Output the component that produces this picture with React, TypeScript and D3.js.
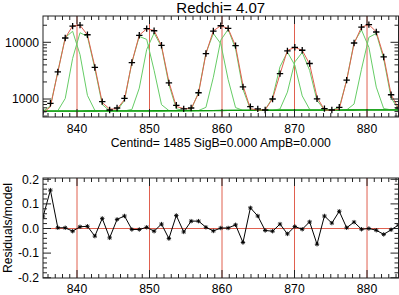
import React from 'react';
import * as d3 from 'd3';

const W = 399;
const H = 295;

// wavelength sampling
const xStart = 835.31;
const xStep = 1.0215;

// observed counts (top panel, log scale)
const fluxValues = [
  600, 840, 3000, 11900, 19300, 20100, 13600, 3600, 900, 640,
  695, 1030, 4400, 13300, 17400, 16000, 8850, 1930, 775, 670,
  695, 1290, 6340, 15800, 19600, 17600, 8750, 1640, 733, 670,
  641, 1000, 2800, 7050, 8170, 7240, 4230, 1010, 676, 641,
  714, 2150, 9730, 18500, 20500, 15200, 5520, 1190, 695,
];

// residuals / model (bottom panel)
const residualValues = [
  0.047, 0.156, 0.003, 0.003, -0.011, 0.007, 0.009, -0.031, 0.041, -0.038,
  0.037, 0.051, -0.004, -0.004, 0.005, -0.011, 0.018, -0.041, 0.053, -0.014,
  0.030, 0.030, 0.005, -0.010, 0.002, 0.002, 0.015, -0.057, 0.084, 0.051,
  -0.008, -0.011, 0.018, -0.022, 0.008, -0.003, 0.027, -0.064, 0.051, 0.022,
  0.070, 0.003, 0.026, -0.003, 0.000, -0.007, -0.024, -0.005, 0.014,
];

// fitted gaussian components (green)
const compCenters = [839.1, 840.8, 849.0, 850.68, 858.97, 860.7, 869.05, 870.9, 879.15, 880.9];
const compAmps = [15900, 15500, 13400, 13900, 13900, 16500, 6100, 6100, 16000, 15000];
const compSigmas = [0.9, 0.9, 0.9, 0.9, 0.9, 0.9, 0.9, 0.9, 0.9, 0.9];
const bgEnds = [610, 645];

const lineCenters = [840, 850, 860, 870, 880];
const xMajorTicks = [840, 850, 860, 870, 880];
const yTopMajorTicks = [1000, 10000];
const yBotMajorTicks = [-0.2, -0.1, 0.0, 0.1, 0.2];

const titleText = 'Redchi= 4.07';
const subtitleText = 'Centind= 1485 SigB=0.000 AmpB=0.000';
const yBotLabel = 'Residuals/model';

const FONT = '"Liberation Sans", Arial, Helvetica, sans-serif';

export default function App() {
  const left = 43;
  const right = 398.5;
  const top1 = 16;
  const bot1 = 117;
  const top2 = 178;
  const bot2 = 278;

  const xs = fluxValues.map((_, i) => xStart + i * xStep);
  const xDomain: [number, number] = [xs[0], xs[xs.length - 1]];
  const x = d3.scaleLinear().domain(xDomain).range([left, right]);
  const y1 = d3.scaleLog().domain([482, 29100]).range([bot1, top1]);
  const y2 = d3.scaleLinear().domain([-0.2012, 0.2053]).range([bot2, top2]);

  const bg = (xv: number) =>
    bgEnds[0] + ((bgEnds[1] - bgEnds[0]) * (xv - xDomain[0])) / (xDomain[1] - xDomain[0]);

  const model = fluxValues.map((f, i) => f / (1 + residualValues[i]));

  const line1 = d3.line<[number, number]>().x((d) => x(d[0])).y((d) => y1(d[1]));
  const line2 = d3.line<[number, number]>().x((d) => x(d[0])).y((d) => y2(d[1]));

  const comps = compCenters.map((c, k) =>
    xs.map((xv) => [xv, bg(xv) + compAmps[k] * Math.exp(-((xv - c) ** 2) / (2 * compSigmas[k] ** 2))] as [number, number])
  );
  const bgLine = xs.map((xv) => [xv, bg(xv)] as [number, number]);

  // minor ticks
  const xMinor: number[] = [];
  for (let v = Math.ceil(xDomain[0]); v <= xDomain[1]; v++) if (v % 10 !== 0) xMinor.push(v);
  const yTopMinor: number[] = [];
  for (const dec of [100, 1000, 10000]) {
    for (let m = 2; m <= 9; m++) {
      const v = m * dec;
      if (v >= 482 && v <= 29100) yTopMinor.push(v);
    }
  }
  const yBotMinor: number[] = [];
  for (let v = -0.2; v <= 0.2001; v += 0.02) {
    const r = Math.round(v * 100) / 100;
    if (Math.abs(Math.round(r * 10) - r * 10) > 1e-6) yBotMinor.push(r);
  }

  const axisColor = '#222';
  const majL = 8;
  const minL = 4;

  const xTicks = (top: number, bot: number, withLabels: boolean, labelY: number) => (
    <g>
      {xMajorTicks.map((t) => (
        <g key={'xM' + t}>
          <line x1={x(t)} x2={x(t)} y1={bot} y2={bot - majL} stroke={axisColor} strokeWidth={1} />
          <line x1={x(t)} x2={x(t)} y1={top} y2={top + majL} stroke={axisColor} strokeWidth={1} />
          {withLabels && (
            <text x={x(t)} y={labelY} textAnchor="middle" fontSize={12.2} fontFamily={FONT} fill="#000">
              {t}
            </text>
          )}
        </g>
      ))}
      {xMinor.map((t) => (
        <g key={'xm' + t}>
          <line x1={x(t)} x2={x(t)} y1={bot} y2={bot - minL} stroke={axisColor} strokeWidth={1} />
          <line x1={x(t)} x2={x(t)} y1={top} y2={top + minL} stroke={axisColor} strokeWidth={1} />
        </g>
      ))}
    </g>
  );

  const plus = (cx: number, cy: number, k: number) => (
    <path key={'p' + k} d={`M${cx - 3.2},${cy}H${cx + 3.2}M${cx},${cy - 3.2}V${cy + 3.2}`} stroke="#000" strokeWidth={1.3} />
  );
  const star = (cx: number, cy: number, k: number) => {
    const r = 2.2;
    const d = r * 0.7071;
    return (
      <path
        key={'s' + k}
        d={`M${cx - r},${cy}H${cx + r}M${cx},${cy - r}V${cy + r}M${cx - d},${cy - d}L${cx + d},${cy + d}M${cx - d},${cy + d}L${cx + d},${cy - d}`}
        stroke="#000"
        strokeWidth={0.9}
      />
    );
  };

  return (
    <svg
      width={W}
      height={H}
      style={{ position: 'absolute', left: 0, top: 0, background: '#fff' }}
      xmlns="http://www.w3.org/2000/svg"
    >
      <defs>
        <clipPath id="c1">
          <rect x={left} y={top1} width={right - left} height={bot1 - top1} />
        </clipPath>
        <clipPath id="c2">
          <rect x={left} y={top2} width={right - left} height={bot2 - top2} />
        </clipPath>
      </defs>
      <rect x={0} y={0} width={W} height={H} fill="#fff" />

      {/* Title */}
      <text x={(left + right) / 2} y={12.5} textAnchor="middle" fontSize={15} fontFamily={FONT} fill="#000">
        {titleText}
      </text>

      {/* Top panel */}
      <g clipPath="url(#c1)">
        {lineCenters.map((c) => (
          <line key={'v1' + c} x1={x(c)} x2={x(c)} y1={top1} y2={bot1} stroke="#e0604f" strokeWidth={1} />
        ))}
        {comps.map((pts, k) => (
          <path key={'g' + k} d={line1(pts) || ''} fill="none" stroke="#66cc66" strokeWidth={1} />
        ))}
        <path d={line1(bgLine) || ''} fill="none" stroke="#119911" strokeWidth={1.3} />
        <path
          d={line1(xs.map((xv, i) => [xv, model[i]] as [number, number])) || ''}
          fill="none"
          stroke="#e0604f"
          strokeWidth={1}
        />
        {xs.map((xv, i) => plus(x(xv), y1(fluxValues[i]), i))}
      </g>
      <rect x={left} y={top1} width={right - left} height={bot1 - top1} fill="none" stroke={axisColor} strokeWidth={1} />
      {xTicks(top1, bot1, true, 133)}
      {yTopMajorTicks.map((t) => (
        <g key={'yT' + t}>
          <line x1={left} x2={left + majL} y1={y1(t)} y2={y1(t)} stroke={axisColor} />
          <line x1={right} x2={right - majL} y1={y1(t)} y2={y1(t)} stroke={axisColor} />
          <text x={39} y={y1(t) + 4.3} textAnchor="end" fontSize={12.2} fontFamily={FONT} fill="#000">
            {t}
          </text>
        </g>
      ))}
      {yTopMinor.map((t) => (
        <g key={'yt' + t}>
          <line x1={left} x2={left + minL} y1={y1(t)} y2={y1(t)} stroke={axisColor} />
          <line x1={right} x2={right - minL} y1={y1(t)} y2={y1(t)} stroke={axisColor} />
        </g>
      ))}
      <text x={(left + right) / 2} y={146.5} textAnchor="middle" fontSize={12.2} fontFamily={FONT} fill="#000">
        {subtitleText}
      </text>

      {/* Bottom panel */}
      <g clipPath="url(#c2)">
        {lineCenters.map((c) => (
          <line key={'v2' + c} x1={x(c)} x2={x(c)} y1={top2} y2={bot2} stroke="#e0604f" strokeWidth={1} />
        ))}
        <line x1={left} x2={right} y1={y2(0)} y2={y2(0)} stroke="#e0604f" strokeWidth={1} />
        <path
          d={line2(xs.map((xv, i) => [xv, residualValues[i]] as [number, number])) || ''}
          fill="none"
          stroke="#000"
          strokeWidth={1}
        />
        {xs.map((xv, i) => star(x(xv), y2(residualValues[i]), i))}
      </g>
      <rect x={left} y={top2} width={right - left} height={bot2 - top2} fill="none" stroke={axisColor} strokeWidth={1} />
      {xTicks(top2, bot2, true, 292.5)}
      {yBotMajorTicks.map((t) => (
        <g key={'yB' + t}>
          <line x1={left} x2={left + majL} y1={y2(t)} y2={y2(t)} stroke={axisColor} />
          <line x1={right} x2={right - majL} y1={y2(t)} y2={y2(t)} stroke={axisColor} />
          <text x={39} y={y2(t) + 4.3} textAnchor="end" fontSize={12.2} fontFamily={FONT} fill="#000">
            {t.toFixed(1)}
          </text>
        </g>
      ))}
      {yBotMinor.map((t) => (
        <g key={'yb' + t}>
          <line x1={left} x2={left + minL} y1={y2(t)} y2={y2(t)} stroke={axisColor} />
          <line x1={right} x2={right - minL} y1={y2(t)} y2={y2(t)} stroke={axisColor} />
        </g>
      ))}
      <text
        transform={`translate(11.5,${(top2 + bot2) / 2}) rotate(-90)`}
        textAnchor="middle"
        fontSize={12.2}
        fontFamily={FONT}
        fill="#000"
      >
        {yBotLabel}
      </text>
    </svg>
  );
}
